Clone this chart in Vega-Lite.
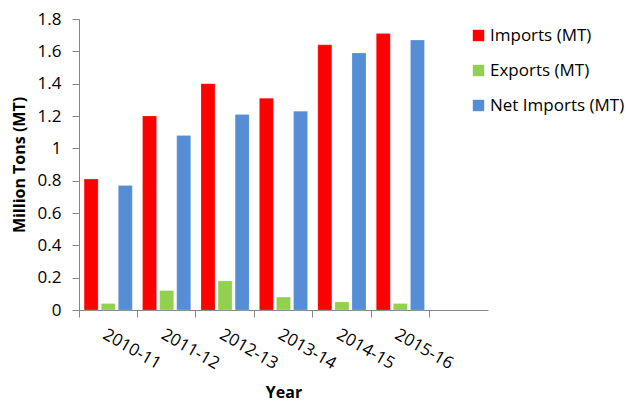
{
  "$schema": "https://vega.github.io/schema/vega-lite/v6.json",
  "width": 409,
  "height": 291,
  "autosize": {"type": "none"},
  "padding": {"left": 79, "top": 19, "right": 140, "bottom": 94},
  "background": "white",
  "config": {
    "view": {"stroke": null},
    "font": "Open Sans"
  },
  "data": {
    "values": [
      {"year": "2010-11", "series": "Imports (MT)", "value": 0.81},
      {"year": "2010-11", "series": "Exports (MT)", "value": 0.04},
      {"year": "2010-11", "series": "Net Imports (MT)", "value": 0.77},
      {"year": "2011-12", "series": "Imports (MT)", "value": 1.20},
      {"year": "2011-12", "series": "Exports (MT)", "value": 0.12},
      {"year": "2011-12", "series": "Net Imports (MT)", "value": 1.08},
      {"year": "2012-13", "series": "Imports (MT)", "value": 1.40},
      {"year": "2012-13", "series": "Exports (MT)", "value": 0.18},
      {"year": "2012-13", "series": "Net Imports (MT)", "value": 1.21},
      {"year": "2013-14", "series": "Imports (MT)", "value": 1.31},
      {"year": "2013-14", "series": "Exports (MT)", "value": 0.08},
      {"year": "2013-14", "series": "Net Imports (MT)", "value": 1.23},
      {"year": "2014-15", "series": "Imports (MT)", "value": 1.64},
      {"year": "2014-15", "series": "Exports (MT)", "value": 0.05},
      {"year": "2014-15", "series": "Net Imports (MT)", "value": 1.59},
      {"year": "2015-16", "series": "Imports (MT)", "value": 1.71},
      {"year": "2015-16", "series": "Exports (MT)", "value": 0.04},
      {"year": "2015-16", "series": "Net Imports (MT)", "value": 1.67}
    ]
  },
  "mark": {"type": "bar", "stroke": "white", "strokeOpacity": 0.4, "strokeWidth": 0.5},
  "encoding": {
    "x": {
      "field": "year",
      "type": "nominal",
      "scale": {
        "domain": ["2010-11", "2011-12", "2012-13", "2013-14", "2014-15", "2015-16", "2016-17"],
        "paddingInner": 0,
        "paddingOuter": 0
      },
      "axis": {
        "title": "Year",
        "titleFont": "Open Sans",
        "titleFontSize": 16,
        "titleFontWeight": "bold",
        "titleColor": "#000000",
        "titlePadding": 13,
        "labelAngle": 30,
        "labelFontSize": 17,
        "labelColor": "#000000",
        "labelPadding": 9,
        "labelExpr": "datum.value == '2016-17' ? '' : datum.value",
        "bandPosition": 0,
        "tickSize": 7,
        "tickColor": "#868686",
        "domainColor": "#868686",
        "grid": false
      }
    },
    "xOffset": {
      "field": "series",
      "type": "nominal",
      "sort": ["Imports (MT)", "Exports (MT)", "Net Imports (MT)"],
      "scale": {"paddingInner": 0.18, "paddingOuter": 0.3}
    },
    "y": {
      "field": "value",
      "type": "quantitative",
      "scale": {"domain": [0, 1.8], "nice": false},
      "axis": {
        "title": "Million Tons (MT)",
        "titleFont": "Open Sans",
        "titleFontSize": 16,
        "titleFontWeight": "bold",
        "titleColor": "#000000",
        "titlePadding": 10,
        "values": [0, 0.2, 0.4, 0.6, 0.8, 1, 1.2, 1.4, 1.6, 1.8],
        "format": ".1~f",
        "labelFontSize": 17,
        "labelColor": "#000000",
        "labelPadding": 11,
        "tickSize": 7,
        "tickColor": "#868686",
        "domainColor": "#868686",
        "grid": false
      }
    },
    "color": {
      "field": "series",
      "type": "nominal",
      "sort": ["Imports (MT)", "Exports (MT)", "Net Imports (MT)"],
      "scale": {
        "domain": ["Imports (MT)", "Exports (MT)", "Net Imports (MT)"],
        "range": ["#FF0000", "#92D050", "#558ED5"]
      },
      "legend": {
        "title": null,
        "orient": "none",
        "legendX": 391,
        "legendY": 8,
        "symbolType": "square",
        "symbolSize": 130,
        "symbolStrokeWidth": 0,
        "labelFontSize": 17,
        "labelColor": "#000000",
        "labelOffset": 3,
        "labelLimit": 300,
        "rowPadding": 17
      }
    }
  }
}
